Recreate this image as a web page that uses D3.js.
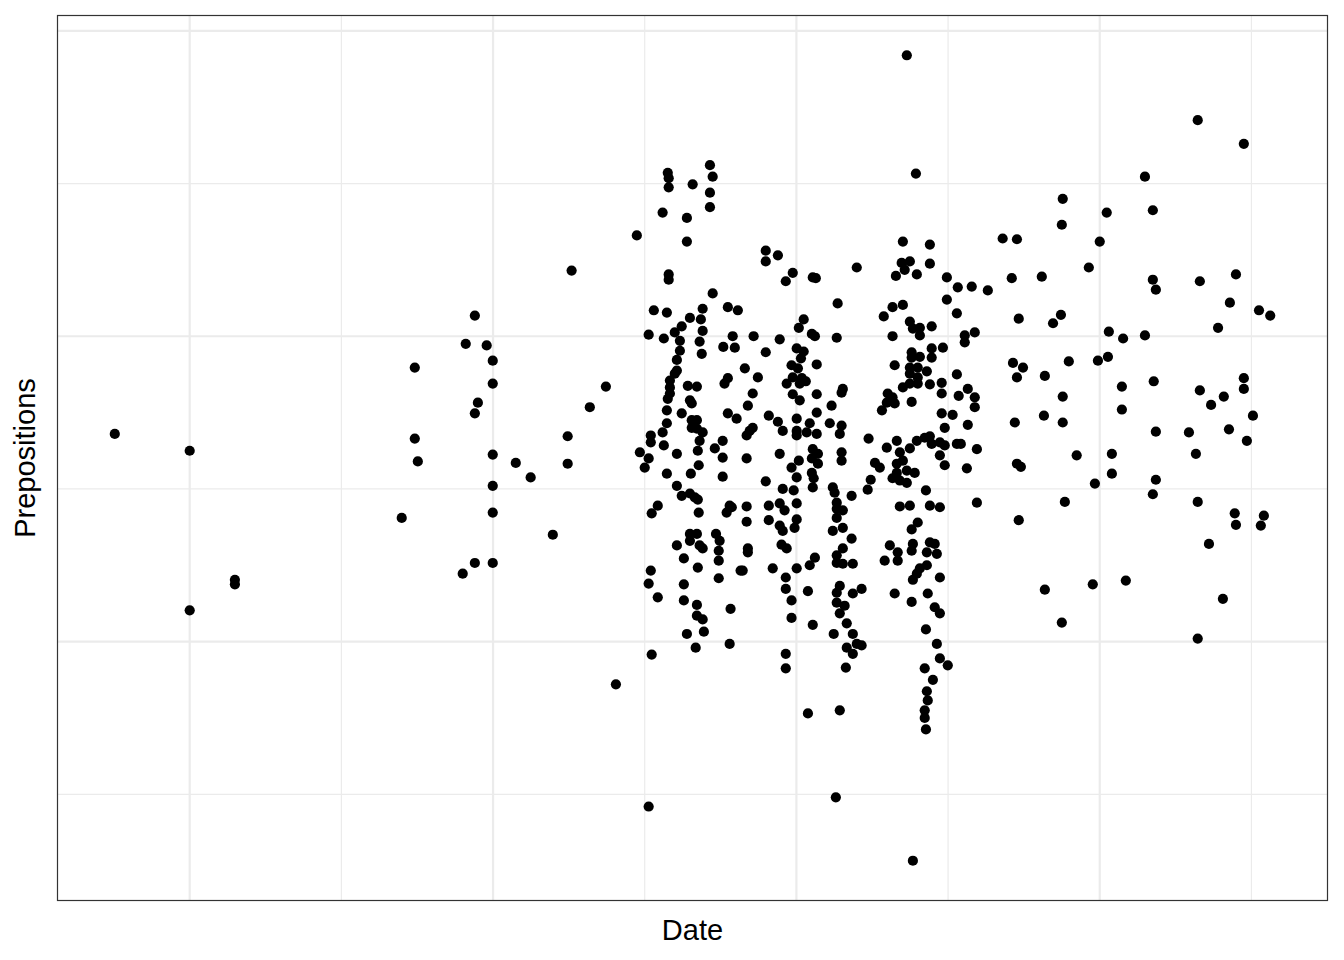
<!DOCTYPE html>
<html>
<head>
<meta charset="utf-8">
<script src="https://cdn.jsdelivr.net/npm/d3@7"></script>
<style>
	body { margin: 0; background: #fff; }
	svg { display: block; }
	.title { font-family: "Liberation Sans", Arial, sans-serif; font-size: 29px; fill: #000; }
</style>
</head>
<body>
<div id="chart"></div>
<script>

// date of each text (decimal year) and prepositions per 1000 words
var years = [
	1977.53, 1980.00, 1980.00, 1981.49, 1981.49, 1986.99, 1987.42, 1987.42, 1987.52, 1989.00,
	1989.10, 1989.40, 1989.50, 1989.40, 1989.40, 1989.79, 1989.99, 1989.99, 1989.99, 1989.99,
	1989.99, 1989.99, 1990.75, 1991.24, 1991.97, 1992.46, 1992.46, 1992.59, 1993.19, 1993.72,
	1994.05, 1994.74, 1995.13,
	1995.59, 1995.76, 1995.79, 1995.79, 1996.39, 1996.39, 1996.58, 1997.15, 1997.24, 1997.15,
	1997.15, 1995.79, 1995.79, 1997.24, 1995.30, 1995.73, 1996.91, 1996.49, 1996.85, 1997.74,
	1998.07, 1995.13, 1995.63, 1995.99, 1996.22, 1996.91, 1996.16, 1996.81, 1997.90, 1997.59,
	1996.16, 1996.88, 1997.97, 1996.06, 1996.06, 1995.99, 1995.83, 1995.83, 1995.83, 1995.76,
	1996.42, 1996.72, 1997.63, 1997.74, 1996.49, 1996.55, 1995.73, 1996.22, 1997.74, 1998.03,
	1996.55, 1996.72, 1996.55, 1996.72, 1996.91, 1995.73, 1995.59, 1995.20, 1995.20, 1994.84,
	1995.13, 1995.00, 1995.63, 1996.06, 1996.81, 1996.75, 1997.57, 1997.31, 1997.57, 1996.78,
	1995.73, 1996.52, 1997.57, 1996.06, 1996.22, 1996.49, 1996.65, 1996.75, 1995.43, 1995.23,
	1997.80, 1997.70, 1996.78, 1996.49, 1996.72, 1997.35,
	1996.49, 1997.47, 1996.06, 1996.81, 1996.91, 1997.44, 1997.44, 1996.29, 1996.75, 1995.20,
	1995.13, 1997.44, 1998.16, 1995.43, 1996.29, 1996.29, 1996.72, 1996.72, 1996.91, 1997.83,
	1996.39, 1996.95, 1996.68, 1997.80, 1995.23,
	1998.99, 1998.99, 1999.39, 1999.88, 1999.65, 2000.54, 2000.64, 2001.99, 2001.36, 2000.24,
	2000.08, 1998.59, 1999.45, 2000.51, 2000.61, 2001.33, 1998.99, 2000.01, 2000.24, 2000.15,
	2000.67, 1999.84, 2000.05, 1998.30, 1998.73, 1999.88, 2000.18, 2000.31, 2000.11, 1999.68,
	2001.53, 2001.49, 1998.56, 1998.40, 1999.88, 2000.11, 2000.67, 2001.16, 2000.67, 1999.09,
	1999.39, 2000.01, 2000.44, 2001.10, 2001.49, 1998.56,
	1998.46, 1998.36, 1999.55, 2000.01, 2000.01, 2000.34, 2000.67, 2001.43, 1999.45, 1998.36,
	2000.54, 2000.71, 2000.51, 2000.71, 2000.51, 2000.57, 2000.54, 2001.49, 2001.49, 2000.08,
	1999.84, 2000.01, 1998.99, 1999.55, 1999.91, 2001.20, 2001.26, 2001.82, 1997.87, 1998.36,
	1999.09, 1999.45, 1999.61, 2000.01, 2001.33, 2001.33, 2001.53, 2001.33, 2001.53, 2001.20,
	1998.36, 1999.09, 1999.45, 1999.55, 1999.94, 2000.01, 2001.82, 1999.51, 1999.68, 1998.40,
	1998.40, 2000.61, 2000.44, 2001.53, 2001.33, 2001.33, 2001.53, 2001.86, 1998.23, 1999.22,
	2000.01, 1999.65, 1999.65, 2000.38, 2001.43, 2001.33, 2001.86, 2001.33, 2001.59, 2001.43,
	1999.84, 1999.84,
	2000.54, 2001.23, 2001.66, 2001.86, 2001.66, 2001.86, 2001.99, 1999.65, 1999.65, 2001.63,
	2000.38, 2001.43, 2001.30,
	2003.51, 2004.40, 2003.47, 2003.74, 2003.57, 2003.28, 2003.97, 2004.40, 2004.96, 2005.32,
	2004.96, 2005.29, 2003.17, 2003.51, 2002.88, 2003.74, 2003.84, 2004.07, 2004.07, 2004.46,
	2003.17, 2003.80, 2004.07, 2003.80, 2004.46, 2004.46, 2004.83, 2003.24, 2003.74, 2004.00,
	2004.30, 2003.74, 2004.00, 2004.00, 2003.74, 2003.51, 2004.40, 2004.79, 2004.79, 2005.29,
	2005.35, 2003.01, 2003.17, 2003.24, 2002.98, 2002.82, 2003.80, 2004.79, 2005.15,
	2004.89, 2002.38, 2002.98, 2003.31, 2003.41, 2003.74, 2003.97, 2004.23, 2004.40, 2004.46,
	2004.73, 2004.89, 2005.29, 2002.59, 2002.75, 2003.31, 2003.51, 2003.90, 2003.64, 2003.31,
	2003.17, 2003.41, 2003.64, 2004.73, 2004.89, 2002.45, 2002.35, 2004.27, 2003.41, 2003.74,
	2004.40, 2004.73, 2004.00, 2003.80, 2003.08, 2003.34, 2002.91, 2003.34, 2003.84, 2003.80,
	2004.40, 2004.56, 2004.30, 2004.63, 2004.30, 2004.07, 2003.97, 2003.84, 2004.73, 2002.15,
	2003.24, 2004.33, 2003.80, 2004.56,
	2004.73, 2004.27, 2002.15, 2004.63, 2004.73, 2004.99, 2004.23, 2004.50, 2004.30, 2004.33,
	2004.23, 2004.23, 2004.27,
	2003.64, 2003.94, 2003.84,
	2008.78, 2010.23, 2008.75, 2006.80, 2007.27, 2010.00, 2009.64, 2005.78, 2006.31, 2007.10,
	2008.09, 2007.33, 2008.72, 2008.46, 2005.55, 2005.55, 2005.88, 2010.30, 2010.77, 2007.14,
	2007.47, 2007.27, 2008.98, 2009.94, 2010.27, 2008.19, 2005.65, 2005.88, 2005.88, 2008.78,
	2010.73, 2010.73, 2007.20, 2008.16, 2008.78, 2005.65, 2005.42, 2005.95, 2005.62, 2007.27,
	2007.40, 2009.24, 2010.40, 2010.40, 2009.84, 2005.95, 2008.85, 2007.33, 2008.19, 2009.77,
	2010.86, 2008.75,
	2013.23, 2014.75, 2011.49, 2011.75, 2011.75, 2011.85, 2013.30, 2014.49, 2014.29, 2015.25,
	2015.62, 2013.90, 2011.49, 2011.78, 2013.30, 2013.67, 2014.09, 2014.75, 2014.75, 2011.85,
	2012.94, 2014.26, 2015.05, 2014.85, 2013.17, 2011.85, 2011.75, 2013.23, 2014.45, 2014.49,
	2015.41, 2015.31, 2013.60, 2014.06, 2013.23
];

var preps = [
	127.2, 125.0, 104.1, 108.1, 107.5, 116.2, 135.9, 126.6, 123.6, 108.9,
	139.0, 142.7, 131.3, 129.9, 110.3, 138.8, 136.8, 133.8, 124.5, 120.4,
	116.9, 110.3, 123.4, 121.5, 114.0, 126.9, 123.3, 148.6, 130.7, 133.4,
	94.4, 153.2, 78.4,
	156.2, 161.4, 160.7, 159.5, 155.5, 152.4, 159.9, 162.4, 160.9, 158.8,
	156.9, 148.1, 147.4, 145.6, 143.4, 143.1, 143.6, 142.4, 142.2, 143.8,
	143.4, 140.2, 139.7, 140.5, 141.3, 140.7, 139.4, 139.3, 140.0, 138.6,
	138.1, 137.7, 138.5, 136.9, 135.5, 135.1, 134.2, 133.3, 132.5, 131.8,
	133.5, 133.4, 133.8, 134.5, 131.6, 131.2, 130.3, 129.9, 129.9, 129.2,
	129.0, 129.0, 128.0, 127.9, 127.4, 128.6, 127.4, 127.0, 126.1, 124.8,
	124.0, 122.8, 125.7, 124.6, 126.3, 125.0, 126.3, 125.3, 124.1, 123.1,
	122.0, 122.0, 121.6, 120.4, 119.1, 119.4, 118.9, 118.6, 117.8, 116.8,
	117.8, 116.9, 116.9, 114.1, 114.1, 114.1,
	113.2, 113.2, 112.6, 112.6, 112.2, 111.9, 110.6, 110.9, 109.7, 109.3,
	107.6, 108.3, 109.3, 105.8, 107.5, 105.4, 104.8, 103.4, 102.9, 104.3,
	101.0, 101.3, 99.2, 99.7, 98.3,
	151.2, 149.8, 150.6, 148.3, 147.2, 147.7, 147.6, 149.0, 144.3, 142.2,
	141.1, 140.0, 139.6, 140.3, 140.0, 139.8, 137.9, 138.4, 138.0, 137.1,
	136.3, 136.2, 135.8, 135.8, 134.6, 134.6, 134.5, 134.1, 133.8, 133.8,
	133.1, 132.6, 132.5, 130.9, 132.4, 131.6, 132.4, 130.9, 130.0, 129.6,
	128.8, 129.2, 128.6, 128.6, 128.3, 128.0,
	127.6, 127.0, 127.6, 127.6, 127.0, 127.4, 127.2, 127.2, 124.6, 124.0,
	125.2, 124.6, 124.0, 123.3, 122.1, 121.4, 120.2, 124.8, 123.7, 123.7,
	122.8, 121.5, 121.0, 120.0, 119.8, 120.2, 119.5, 119.1, 117.6, 117.7,
	117.8, 118.1, 117.2, 118.1, 118.2, 117.4, 117.2, 116.2, 114.9, 114.5,
	115.7, 115.9, 115.2, 114.5, 114.9, 116.0, 113.5, 112.7, 112.2, 112.2,
	111.7, 111.0, 110.0, 112.2, 111.3, 110.3, 110.2, 110.2, 109.3, 109.6,
	109.6, 108.4, 106.9, 106.6, 107.3, 106.4, 106.3, 105.1, 104.7, 103.7,
	105.4, 103.1,
	102.2, 101.0, 102.4, 101.0, 99.2, 98.4, 99.7, 98.4, 96.5, 96.6,
	90.6, 91.0, 79.6,
	152.4, 152.0, 149.6, 149.8, 148.7, 147.9, 148.1, 149.5, 147.7, 146.4,
	144.8, 143.0, 143.8, 144.1, 142.6, 141.9, 141.0, 141.1, 140.1, 141.3,
	140.0, 137.9, 137.3, 137.2, 138.4, 137.2, 138.5, 136.2, 135.9, 135.9,
	135.4, 135.1, 134.6, 133.8, 133.8, 133.3, 133.7, 133.9, 132.5, 135.0,
	132.2, 132.5, 132.0, 131.2, 131.3, 130.3, 131.4, 129.9, 129.7,
	128.0, 126.6, 125.4, 126.3, 124.8, 125.3, 126.3, 126.7, 126.9, 125.9,
	126.1, 125.7, 125.9, 123.4, 122.8, 123.3, 123.7, 122.1, 122.4, 122.1,
	121.4, 121.1, 120.8, 124.4, 123.1, 121.2, 119.9, 119.8, 117.7, 117.8,
	117.8, 117.6, 115.6, 114.7, 112.6, 111.7, 110.6, 110.6, 112.8, 111.9,
	113.0, 112.8, 111.7, 111.5, 110.0, 109.6, 108.9, 108.1, 108.4, 106.9,
	106.3, 106.3, 105.2, 104.5,
	103.7, 101.6, 99.5, 99.7, 97.8, 96.9, 96.5, 95.0, 93.5, 92.3,
	91.0, 90.0, 88.5,
	176.8, 161.3, 71.3,
	158.0, 156.2, 154.6, 152.8, 152.7, 152.4, 149.0, 146.5, 146.0, 147.6,
	147.8, 142.3, 142.8, 141.7, 140.1, 139.2, 140.5, 140.6, 139.7, 136.5,
	135.9, 134.6, 136.7, 136.8, 137.3, 134.8, 133.1, 132.0, 130.7, 132.1,
	133.4, 130.4, 128.7, 129.6, 128.7, 128.4, 125.9, 125.2, 122.7, 123.3,
	122.9, 124.4, 124.6, 122.0, 120.7, 118.2, 118.3, 115.9, 106.8, 107.5,
	108.0, 102.5,
	168.3, 165.2, 160.9, 156.5, 147.4, 146.1, 147.2, 148.1, 144.4, 143.4,
	142.7, 141.1, 140.1, 134.1, 132.9, 131.0, 132.1, 134.5, 133.1, 127.5,
	127.4, 127.8, 129.6, 126.3, 124.6, 121.2, 119.3, 118.3, 116.8, 115.3,
	116.5, 115.2, 112.8, 105.6, 100.4
];

// grid breaks (no labels shown in the original)
var xMajor = [1980, 1990, 2000, 2010];
var xMinor = [1985, 1995, 2005, 2015];
var yMajor = [100, 140, 180];
var yMinor = [80, 120, 160];

var data = years.map((d, i) => ({ date: d, val: preps[i] }));

function expand(ext)	{
	var pad = (ext[1] - ext[0]) * 0.05;
	return [ ext[0] - pad, ext[1] + pad ];
}

const W = 1344, H = 960;
const margin = { top: 15, right: 16, bottom: 59, left: 57 },
	width = W - margin.left - margin.right,
	height = H - margin.top - margin.bottom;

var svg = d3.select("#chart").append("svg")
	.attr("width", W)
	.attr("height", H);

var g = svg.append("g")
	.attr("transform", `translate(${margin.left},${margin.top})`);

var x = d3.scaleLinear(expand(d3.extent(years)), [ 0, width ]);
var y = d3.scaleLinear(expand(d3.extent(preps)), [ height, 0 ]);

// minor grid
g.selectAll(".xminor").data(xMinor).join("line")
	.attr("x1", d => x(d)).attr("x2", d => x(d))
	.attr("y1", 0).attr("y2", height)
	.attr("stroke", "#ebebeb").attr("stroke-width", 1.2);
g.selectAll(".yminor").data(yMinor).join("line")
	.attr("y1", d => y(d)).attr("y2", d => y(d))
	.attr("x1", 0).attr("x2", width)
	.attr("stroke", "#ebebeb").attr("stroke-width", 1.2);

// major grid
g.selectAll(".xmajor").data(xMajor).join("line")
	.attr("x1", d => x(d)).attr("x2", d => x(d))
	.attr("y1", 0).attr("y2", height)
	.attr("stroke", "#ebebeb").attr("stroke-width", 2.2);
g.selectAll(".ymajor").data(yMajor).join("line")
	.attr("y1", d => y(d)).attr("y2", d => y(d))
	.attr("x1", 0).attr("x2", width)
	.attr("stroke", "#ebebeb").attr("stroke-width", 2.2);

g.selectAll(".pt").data(data).join("circle")
	.attr("class", "pt")
	.attr("cx", d => x(d.date))
	.attr("cy", d => y(d.val))
	.attr("r", 5.1)
	.attr("fill", "#000");

g.append("rect")
	.attr("x", 0.5).attr("y", 0.5)
	.attr("width", width - 1).attr("height", height - 1)
	.attr("fill", "none")
	.attr("stroke", "#333")
	.attr("stroke-width", 1.2);

svg.append("text")
	.attr("class", "title")
	.attr("x", margin.left + width / 2)
	.attr("y", 940)
	.attr("text-anchor", "middle")
	.text("Date");

svg.append("text")
	.attr("class", "title")
	.attr("transform", `translate(35,${margin.top + height / 2}) rotate(-90)`)
	.attr("text-anchor", "middle")
	.text("Prepositions");

</script>
</body>
</html>
